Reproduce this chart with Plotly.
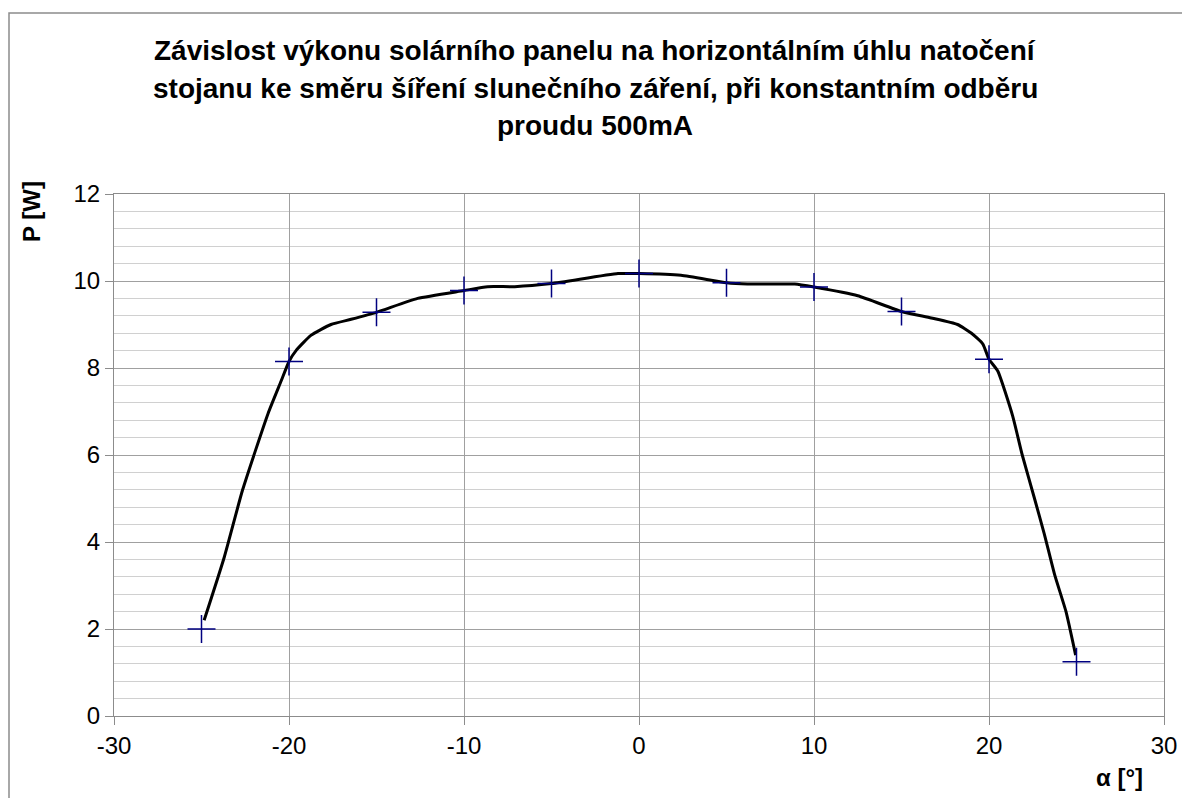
import plotly.graph_objects as go

# Measured points (markers)
alpha = [-25, -20, -15, -10, -5, 0, 5, 10, 15, 20, 25]
power = [2.0, 8.15, 9.28, 9.78, 9.94, 10.17, 9.96, 9.86, 9.3, 8.2, 1.25]

# Smoothed curve vertices
curve_alpha = [-24.85, -23.7, -22.65, -21.2, -20.45, -20.0, -19.6, -18.75, -17.6, -16.45,
               -15.0, -12.65, -10.0, -8.65, -7.1, -5.0, -1.2, 0.0, 2.4, 5.0, 6.2, 8.9,
               10.0, 12.5, 15.0, 16.7, 18.2, 19.0, 19.65, 20.0, 20.5, 21.35, 21.9, 22.6,
               23.15, 23.75, 24.4, 24.95]
curve_power = [2.2, 3.65, 5.2, 6.95, 7.7, 8.15, 8.4, 8.75, 9.0, 9.12,
               9.28, 9.6, 9.78, 9.87, 9.87, 9.94, 10.17, 10.17, 10.13, 9.96, 9.93, 9.93,
               9.86, 9.66, 9.3, 9.15, 9.0, 8.8, 8.55, 8.2, 7.93, 6.9, 6.0, 5.0,
               4.2, 3.25, 2.4, 1.4]

x_ticks = [-30, -20, -10, 0, 10, 20, 30]
x_ticklabels = ["-30", "-20", "-10", "0", "10", "20", "30"]
y_ticks = [0, 2, 4, 6, 8, 10, 12]
y_ticklabels = ["0", "2", "4", "6", "8", "10", "12"]

title_lines = [
    "Závislost výkonu solárního panelu na horizontálním úhlu natočení",
    "stojanu ke směru šíření slunečního záření, při konstantním odběru",
    "proudu 500mA",
]
x_title = "α [°]"
y_title = "P [W]"

FONT = "Liberation Sans, Arial, sans-serif"

fig = go.Figure()
fig.add_trace(go.Scatter(
    x=curve_alpha, y=curve_power, mode="lines",
    line=dict(color="black", width=3, shape="spline", smoothing=0.5),
    hoverinfo="skip", showlegend=False,
))
fig.add_trace(go.Scatter(
    x=alpha, y=power, mode="markers",
    marker=dict(symbol="cross-thin", size=20, line=dict(color="#000080", width=1.5)),
    showlegend=False,
))

OFF = 7  # page offset seen in the screenshot
W, H = 1190 - OFF, 798 - OFF
# target pixel positions (screenshot coords)
X0, X1, Y0, Y1 = 113, 1163, 715, 193
L = X0 - OFF
T = Y1 - OFF
R = W - (X1 - OFF)
B = H - (Y0 - OFF)
pw, ph = X1 - X0, Y0 - Y1

def px2paper_x(px):
    return (px - X0) / pw

def px2paper_y(py):
    return (Y0 - py) / ph

annotations = []
for txt, yc in zip(title_lines, [50, 87, 124]):
    annotations.append(dict(
        text="<b>%s</b>" % txt, xref="paper", yref="paper",
        x=px2paper_x(594), y=px2paper_y(yc), xanchor="center", yanchor="middle",
        showarrow=False, font=dict(family=FONT, size=28, color="black"),
    ))
annotations.append(dict(
    text="<b>%s</b>" % y_title, xref="paper", yref="paper",
    x=px2paper_x(31), y=px2paper_y(211), xanchor="center", yanchor="middle",
    textangle=-90, showarrow=False, font=dict(family=FONT, size=24, color="black"),
))
annotations.append(dict(
    text="<b>%s</b>" % x_title, xref="paper", yref="paper",
    x=px2paper_x(1118), y=px2paper_y(776), xanchor="center", yanchor="middle",
    showarrow=False, font=dict(family=FONT, size=24, color="black"),
))

fig.update_layout(
    width=W, height=H,
    margin=dict(l=L, r=R, t=T, b=B, pad=0),
    paper_bgcolor="white", plot_bgcolor="white",
    font=dict(family=FONT, size=24, color="black"),
    annotations=annotations,
    shapes=[dict(
        type="rect", xref="paper", yref="paper",
        x0=px2paper_x(8), x1=px2paper_x(1210), y0=px2paper_y(820), y1=px2paper_y(12),
        line=dict(color="#8c8c8c", width=1.5), fillcolor="rgba(0,0,0,0)", layer="below",
    )],
)
fig.update_xaxes(
    range=[-30, 30], tickmode="array", tickvals=x_ticks, ticktext=x_ticklabels,
    showgrid=True, gridcolor="#a0a0a0", gridwidth=1,
    showline=True, linecolor="#8c8c8c", linewidth=1, mirror=True,
    ticks="outside", ticklen=8, tickcolor="#8c8c8c",
    zeroline=False, tickfont=dict(size=24),
)
fig.update_yaxes(
    range=[0, 12], tickmode="array", tickvals=y_ticks, ticktext=y_ticklabels,
    showgrid=True, gridcolor="#a0a0a0", gridwidth=1,
    minor=dict(tickmode="linear", tick0=0, dtick=0.4, showgrid=True, gridcolor="#d0d0d0", gridwidth=1),
    showline=True, linecolor="#8c8c8c", linewidth=1, mirror=True,
    ticks="outside", ticklen=8, tickcolor="#8c8c8c",
    zeroline=False, tickfont=dict(size=24),
)

fig.write_html("out.html")
